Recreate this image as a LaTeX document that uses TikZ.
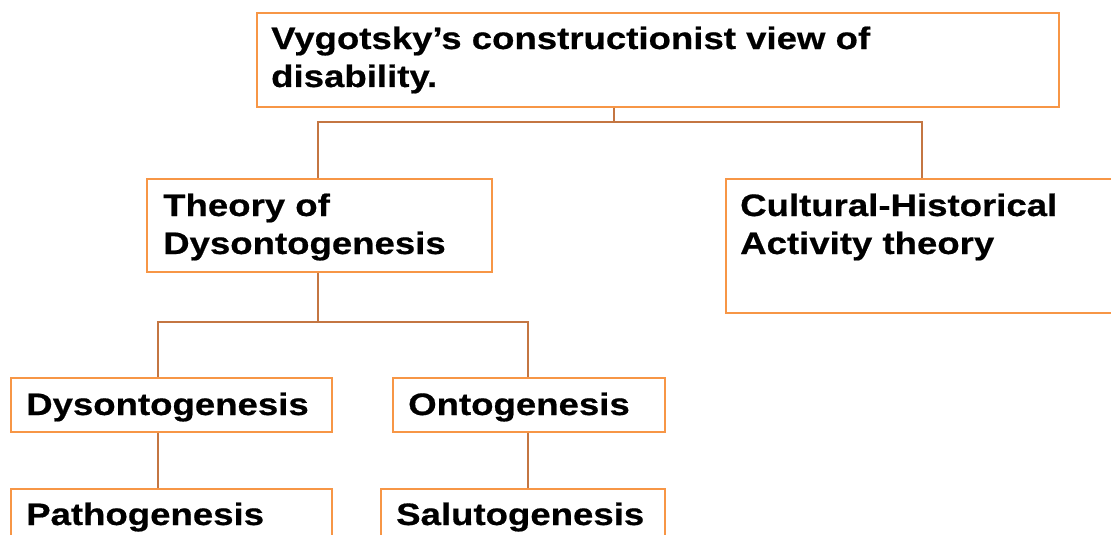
\documentclass[tikz,border=0pt]{standalone}
\usepackage{fontspec}
\setmainfont{Liberation Sans}[FakeStretch=1.18,BoldFeatures={FakeBold=0.6}]
\definecolor{boxline}{RGB}{247,150,70}
\definecolor{linkline}{RGB}{196,118,66}
\newcommand{\twolines}[2]{\vtop{\baselineskip=38pt\hbox{#1}\hbox{#2}}}
\begin{document}
\begin{tikzpicture}[x=1pt,y=-1pt,
  box/.style={draw=boxline,line width=1.6pt,inner sep=0pt,anchor=north west},
  label/.style={anchor=base west,inner sep=0pt,font=\fontsize{31}{38}\selectfont\bfseries},
  link/.style={draw=linkline,line width=1.4pt}]
\useasboundingbox (0,0) rectangle (1111,535);
% boxes
\node[box,minimum width=802pt,minimum height=94pt] (top) at (256,12) {};
\node[box,minimum width=345pt,minimum height=93pt] (theory) at (146,178) {};
\node[box,minimum width=395pt,minimum height=134pt] (chat) at (725,178) {};
\node[box,minimum width=321pt,minimum height=54pt] (dys) at (10,377) {};
\node[box,minimum width=272pt,minimum height=54pt] (onto) at (392,377) {};
\node[box,minimum width=321pt,minimum height=60pt] (patho) at (10,488) {};
\node[box,minimum width=284pt,minimum height=60pt] (saluto) at (380,488) {};
% texts
\node[label] (toptext) at (271,49) {\twolines{Vygotsky’s constructionist view of}{disability.}};
\node[label] (theorytext) at (163,216) {\twolines{Theory of}{Dysontogenesis}};
\node[label] (chattext) at (740,216) {\twolines{Cultural-Historical}{Activity theory}};
\node[label] (dystext) at (26,415) {Dysontogenesis};
\node[label] (ontotext) at (408,415) {Ontogenesis};
\node[label] (pathotext) at (26,525) {Pathogenesis};
\node[label] (salutotext) at (396,525) {Salutogenesis};
% connectors
\coordinate (j1) at (614,122);
\coordinate (j2) at (318,322);
\draw[link] (top.south -| j1) -- (j1);
\draw[link] (j1) -- (318,122) -- (318,178 |- theory.north);
\draw[link] (j1) -- (922,122) -- (922,178 |- chat.north);
\draw[link] (theory.south -| j2) -- (j2);
\draw[link] (j2) -- (158,322) -- (158,322 |- dys.north);
\draw[link] (j2) -- (528,322) -- (528,322 |- onto.north);
\draw[link] (dys.south -| 158,0) -- (158,0 |- patho.north);
\draw[link] (onto.south -| 528,0) -- (528,0 |- saluto.north);
\end{tikzpicture}
\end{document}
